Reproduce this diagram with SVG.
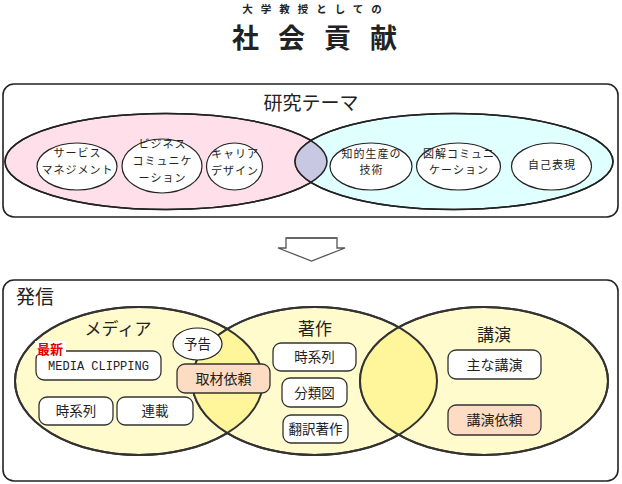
<svg xmlns="http://www.w3.org/2000/svg" width="622" height="484" viewBox="0 0 622 484">
<defs>
<style>
text{font-family:"Noto Sans CJK JP","Noto Sans",sans-serif;fill:#222;text-anchor:middle}
.panel{fill:#fff;stroke:#222;stroke-width:1.6}
.big{stroke:#222;stroke-width:1.5}
.sm{fill:#fff;stroke:#222;stroke-width:1.2}
.ven{fill:#fffbcc;stroke:#333;stroke-width:2}
.ov{fill:#fff59a;stroke:none}
.box{fill:#fff;stroke:#333;stroke-width:1.3}
.req{fill:#fddcc4;stroke:#333;stroke-width:1.3}
.t12{font-size:11px;letter-spacing:1px}
.t13{font-size:13.5px}
.t17{font-size:17px}
.t19{font-size:19px}
</style>
<clipPath id="clipPink"><ellipse cx="166" cy="161.5" rx="161" ry="48"/></clipPath>
<clipPath id="clipMedia"><ellipse cx="139" cy="381" rx="124" ry="74"/></clipPath>
<clipPath id="clipKoen"><ellipse cx="484" cy="381" rx="124" ry="74"/></clipPath>
</defs>
<rect width="622" height="484" fill="#fff"/>

<g id="title">
<text x="316" y="13" style="font-size:10.5px;font-weight:700;letter-spacing:8px">大学教授としての</text>
<text x="324" y="48" style="font-size:27px;font-weight:700;letter-spacing:19px">社会貢献</text>
</g>

<g id="research">
<rect class="panel" x="3" y="84" width="615" height="133" rx="11"/>
<text class="t19" x="311" y="110">研究テーマ</text>
<ellipse class="big" cx="166" cy="161.5" rx="161" ry="48" fill="#ffe0ea"/>
<ellipse class="big" cx="454" cy="161.5" rx="159" ry="48" fill="#e0ffff"/>
<ellipse cx="454" cy="161.5" rx="159" ry="48" fill="#c8c8e2" clip-path="url(#clipPink)"/>
<ellipse cx="166" cy="161.5" rx="161" ry="48" fill="none" stroke="#222" stroke-width="1.5"/>
<ellipse cx="454" cy="161.5" rx="159" ry="48" fill="none" stroke="#222" stroke-width="1.5"/>
</g>

<g id="service-management">
<ellipse class="sm" cx="77" cy="166.5" rx="40" ry="23.5"/>
<text class="t12" x="77.5" y="157">サービス</text>
<text class="t12" x="77.5" y="173.5">マネジメント</text>
</g>
<g id="business-communication">
<ellipse class="sm" cx="162" cy="166" rx="40" ry="27"/>
<text class="t12" x="162.5" y="148">ビジネス</text>
<text class="t12" x="162.5" y="165">コミュニケ</text>
<text class="t12" x="162.5" y="182">ーション</text>
</g>
<g id="career-design">
<ellipse class="sm" cx="234.5" cy="166.5" rx="28" ry="23.5"/>
<text class="t12" x="235" y="158">キャリア</text>
<text class="t12" x="235" y="174.5">デザイン</text>
</g>
<g id="intellectual-production">
<ellipse class="sm" cx="371" cy="166.5" rx="41" ry="23.5"/>
<text class="t12" x="371.5" y="157.5">知的生産の</text>
<text class="t12" x="371.5" y="174">技術</text>
</g>
<g id="diagram-communication">
<ellipse class="sm" cx="458.5" cy="166.5" rx="42" ry="23.5"/>
<text class="t12" x="459" y="157.5">図解コミュニ</text>
<text class="t12" x="459" y="174">ケーション</text>
</g>
<g id="self-expression">
<ellipse class="sm" cx="551.5" cy="166.5" rx="40" ry="23.5"/>
<text class="t12" x="552" y="168.5">自己表現</text>
</g>

<g id="connectors">
<polygon points="286,238 337,238 337,248 345,248 311.5,261 278,248 286,248" fill="#fff" stroke="#555" stroke-width="1.3" stroke-linejoin="miter"/>
<line x1="286" y1="238" x2="337" y2="238" stroke="#666" stroke-width="2"/>
</g>

<g id="hasshin">
<rect class="panel" x="3" y="280" width="615" height="201" rx="11"/>
<text class="t19" x="16" y="304" style="text-anchor:start">発信</text>
<ellipse class="ven" cx="139" cy="381" rx="124" ry="74"/>
<ellipse class="ven" cx="314.5" cy="381" rx="122.5" ry="74"/>
<ellipse class="ven" cx="484" cy="381" rx="124" ry="74"/>
<ellipse class="ov" cx="314.5" cy="381" rx="122.5" ry="74" clip-path="url(#clipMedia)"/>
<ellipse class="ov" cx="314.5" cy="381" rx="122.5" ry="74" clip-path="url(#clipKoen)"/>
<ellipse cx="139" cy="381" rx="124" ry="74" fill="none" stroke="#333" stroke-width="2"/>
<ellipse cx="314.5" cy="381" rx="122.5" ry="74" fill="none" stroke="#333" stroke-width="2"/>
<ellipse cx="484" cy="381" rx="124" ry="74" fill="none" stroke="#333" stroke-width="2"/>
<text class="t17" x="118" y="334.5">メディア</text>
<text class="t17" x="315" y="335">著作</text>
<text class="t17" x="494" y="341">講演</text>
</g>

<g id="media-clipping">
<rect class="box" x="36" y="351" width="125" height="29" rx="8"/>
<rect x="35" y="341" width="31" height="14" fill="#fff"/>
<text x="37" y="353.5" style="font-size:13px;font-weight:700;fill:#e00000;text-anchor:start">最新</text>
<text x="98.5" y="370" style="font-family:'Liberation Mono',monospace;font-size:12px">MEDIA CLIPPING</text>
</g>
<g id="yokoku">
<ellipse class="sm" cx="197.5" cy="344" rx="24.5" ry="16"/>
<text class="t13" x="197.5" y="349">予告</text>
</g>
<g id="shuzai-irai">
<rect class="req" x="177" y="364" width="93" height="29" rx="8"/>
<text class="t13" x="223.5" y="384" style="font-size:14px">取材依頼</text>
</g>
<g id="media-jikeiretsu">
<rect class="box" x="39" y="397" width="74" height="28" rx="8"/>
<text class="t13" x="76" y="416">時系列</text>
</g>
<g id="rensai">
<rect class="box" x="117" y="397" width="76" height="28" rx="8"/>
<text class="t13" x="155" y="416">連載</text>
</g>
<g id="chosaku-jikeiretsu">
<rect class="box" x="273" y="343" width="83" height="28" rx="8"/>
<text class="t13" x="314.5" y="362">時系列</text>
</g>
<g id="bunruizu">
<rect class="box" x="282" y="378" width="65" height="29" rx="8"/>
<text class="t13" x="314.5" y="397.5">分類図</text>
</g>
<g id="honyaku-chosaku">
<rect class="box" x="283" y="415" width="65" height="28" rx="8"/>
<text class="t13" x="315.5" y="434">翻訳著作</text>
</g>
<g id="omona-koen">
<rect class="box" x="448" y="350" width="93" height="29" rx="8"/>
<text class="t13" x="494.5" y="369.5" style="font-size:14px">主な講演</text>
</g>
<g id="koen-irai">
<rect class="req" x="448" y="405" width="93" height="30" rx="8"/>
<text class="t13" x="494.5" y="425" style="font-size:14px">講演依頼</text>
</g>
</svg>
